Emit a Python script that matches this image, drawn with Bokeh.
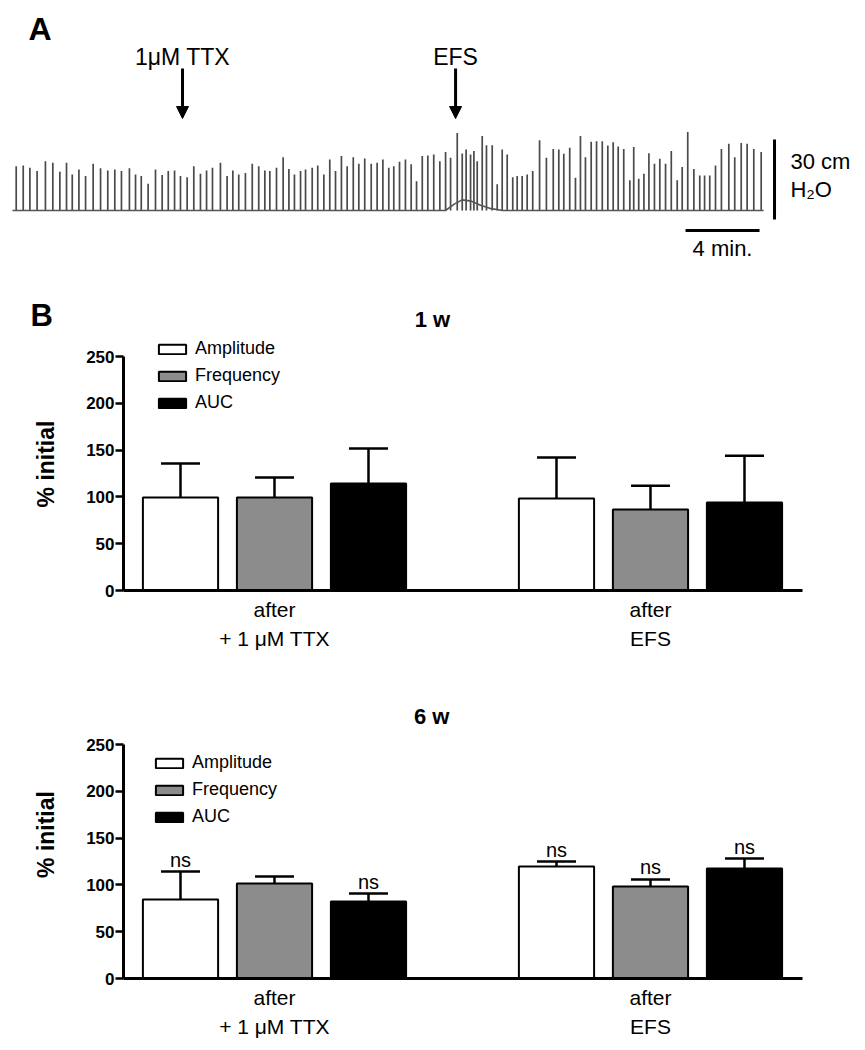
from bokeh.plotting import figure
from bokeh.models import (Range1d, Label, Arrow, NormalHead, Whisker, TeeHead,
                          ColumnDataSource, FixedTicker, Legend, LegendItem)
from bokeh.embed import file_html
from bokeh.resources import INLINE
from bokeh.core.properties import value

FONT = "Liberation Sans"

# ---------------- Panel A: pressure trace ----------------
spike_t = [0.20, 0.58, 0.94, 1.33, 1.78, 2.18, 2.56, 2.92, 3.23, 3.59,
           3.95, 4.36, 4.76, 5.15, 5.53, 5.89, 6.32, 6.65, 6.96, 7.33,
           7.73, 8.09, 8.42, 8.76, 9.08, 9.44, 9.80, 10.16, 10.49, 10.81,
           11.24, 11.60, 11.91, 12.23, 12.59, 12.96, 13.31, 13.64, 13.91, 14.27,
           14.63, 14.94, 15.24,
           15.57, 15.84, 16.20, 16.50, 16.83, 17.15, 17.46, 17.78, 18.09, 18.42,
           18.72, 19.04, 19.39, 19.71, 20.02, 20.34, 20.61, 20.92, 21.24, 21.55,
           21.84, 22.15, 22.45, 22.77, 23.10, 23.41, 23.68, 24.04, 24.31, 24.52,
           24.76, 24.94, 25.12, 25.39, 25.62, 25.93, 26.20, 26.47, 26.74, 27.04,
           27.28, 27.55, 27.82, 28.12, 28.49, 28.86, 29.23, 29.53, 29.80, 30.12,
           30.43, 30.70, 30.97, 31.28, 31.57,
           31.88, 32.18, 32.47, 32.74, 33.04, 33.37, 33.58, 33.85, 34.13, 34.40,
           34.70, 34.99, 35.30, 35.61, 35.93, 36.20, 36.50, 36.83, 37.15, 37.41,
           37.69, 38.00, 38.32, 38.72, 39.04, 39.39, 39.71, 40.07, 40.47]
spike_h = [16.6, 16.9, 16.0, 14.8, 18.5, 17.9, 14.5, 17.9, 13.5, 15.4,
           12.9, 17.5, 15.8, 15.0, 15.4, 14.8, 15.8, 13.5, 12.9, 10.0,
           15.4, 13.3, 14.8, 15.0, 12.9, 12.5, 16.6, 13.8, 15.0, 16.0,
           17.9, 12.9, 15.0, 13.5, 14.1, 17.5, 16.6, 15.0, 14.8, 16.0,
           20.0, 15.6, 13.5,
           14.8, 15.4, 16.0, 16.9, 13.5, 19.1, 14.8, 20.4, 16.6, 20.0,
           17.5, 19.5, 17.5, 17.9, 19.1, 16.0, 16.6, 18.3, 19.1, 17.3,
           11.0, 20.4, 20.6, 21.0, 18.5, 21.9, 19.8, 29.1, 21.4, 22.9,
           21.0, 22.3, 18.5, 27.9, 24.5, 24.5, 9.8, 22.9, 21.0, 12.5,
           12.9, 12.9, 13.5, 14.8, 26.3, 19.8, 23.1, 22.9, 21.3, 23.5,
           12.3, 27.9, 20.0, 25.8, 26.0,
           26.0, 24.4, 25.6, 24.0, 23.1, 11.3, 23.8, 11.9, 13.8, 21.5,
           17.5, 19.4, 17.5, 22.3, 11.3, 16.3, 29.4, 15.6, 13.1, 13.1,
           13.1, 16.9, 23.1, 25.0, 20.0, 25.3, 25.0, 23.1, 21.9]
base_t = [0.0, 23.4, 23.9, 24.3, 24.8, 25.3, 25.8, 26.5, 40.6]
base_v = [0.0, 0.0, 2.5, 4.0, 3.5, 2.0, 0.8, 0.0, 0.0]
event_t = [9.19, 23.95]
event_lbl = ["1\u03bcM TTX", "EFS"]
scale_cm = 30
scale_min = 4

# ---------------- Panel B: bar data (% initial, mean and SEM) ----------------
groups = ["after\n+ 1 \u03bcM TTX", "after\nEFS"]
series = ["Amplitude", "Frequency", "AUC"]
colors = ["white", "#8c8c8c", "black"]

w1_amp = [99.4, 98.3]
w1_amp_sem = [36.3, 43.7]
w1_freq = [99.4, 86.5]
w1_freq_sem = [21.3, 25.5]
w1_auc = [114.3, 94.0]
w1_auc_sem = [37.4, 50.0]

w6_amp = [84.4, 119.7]
w6_amp_sem = [29.9, 5.3]
w6_freq = [101.5, 98.3]
w6_freq_sem = [7.5, 7.5]
w6_auc = [82.3, 117.5]
w6_auc_sem = [8.5, 10.7]
w6_amp_sig = ["ns", "ns"]
w6_freq_sig = ["", "ns"]
w6_auc_sig = ["ns", "ns"]

W = 865


def lab(p, x, y, text, size, bold=False, align="left"):
    p.add_layout(Label(x=x, y=y, text=text, text_align=align,
                       text_baseline="middle", text_font=FONT,
                       text_font_style="bold" if bold else "normal",
                       text_font_size=size, text_color="black"))


def trace_fig():
    p = figure(width=W, height=337, output_backend="svg", toolbar_location=None,
               x_range=Range1d(-0.6486, 46.108), y_range=Range1d(-47.625, 78.75),
               x_axis_location=None, y_axis_location=None,
               min_border_left=0, min_border_right=0, min_border_top=0, min_border_bottom=0)
    p.grid.visible = False
    p.outline_line_color = None
    p.segment(x0=spike_t, y0=[0] * len(spike_t), x1=spike_t, y1=spike_h,
              line_color="#4a4a4a", line_width=1.7)
    p.line(base_t, base_v, line_color="#555555", line_width=1.6)
    for t, lbl in zip(event_t, event_lbl):
        lab(p, t, 57.75, lbl, "23px", align="center")
        p.add_layout(Arrow(end=NormalHead(size=12, fill_color="black", line_color="black"),
                           x_start=t, y_start=53.25, x_end=t, y_end=34.5,
                           line_width=3, line_color="black"))
    lab(p, 0.865, 68.06, "A", "32px", bold=True)
    # scale bars
    p.segment(x0=[41.19], y0=[-3.4], x1=[41.19], y1=[-3.4 + scale_cm],
              line_color="black", line_width=3)
    p.segment(x0=[36.38], y0=[-7.5], x1=[36.38 + scale_min], y1=[-7.5],
              line_color="black", line_width=3)
    lab(p, 42.05, 18.56, f"{scale_cm} cm", "22px")
    lab(p, 42.05, 8.06, "H\u2082O", "22px")
    lab(p, 36.38 + scale_min / 2, -14.25, f"{scale_min} min.", "22px", align="center")
    # panel B heading and first chart title
    lab(p, 0.973, -39.4, "B", "31px", bold=True)
    lab(p, 22.70, -41.06, "1 w", "22px", bold=True, align="center")
    return p


def bar_fig(means, sems, sigs, height, btop, bbot, yend, legend_loc, title=None, title_y=None):
    p = figure(width=W, height=height, output_backend="svg", toolbar_location=None,
               x_range=Range1d(-0.4016, 1.4043), y_range=Range1d(0, yend),
               min_border_left=123, min_border_right=63,
               min_border_top=btop, min_border_bottom=bbot)
    p.grid.visible = False
    p.outline_line_color = None
    offsets = [-0.25, 0.0, 0.25]
    items = []
    for i, name in enumerate(series):
        xs = [g + offsets[i] for g in range(len(groups))]
        up = [m + s for m, s in zip(means[i], sems[i])]
        src = ColumnDataSource(dict(x=xs, top=means[i], upper=up,
                                    sig=sigs[i] if sigs else [""] * len(xs)))
        p.add_layout(Whisker(source=src, base="x", lower="top", upper="upper",
                             dimension="height", line_width=2.5, line_color="black",
                             upper_head=TeeHead(size=39, line_width=2.5, line_color="black"),
                             lower_head=None))
        r = p.vbar(x="x", top="top", width=0.2, source=src, fill_color=colors[i],
                   line_color="black", line_width=2)
        if sigs:
            p.text(x="x", y="upper", text="sig", source=src, text_align="center",
                   text_baseline="middle", y_offset=-12, text_font=value(FONT),
                   text_font_size="20px", text_color="black")
        items.append(LegendItem(label=name, renderers=[r]))
    leg = Legend(items=items, location=legend_loc, glyph_width=34, glyph_height=12,
                 label_height=18, spacing=6, padding=0, margin=0, label_standoff=6,
                 border_line_color=None, background_fill_alpha=0,
                 label_text_font=FONT, label_text_font_size="18px",
                 label_text_color="black")
    p.add_layout(leg)

    ya = p.yaxis[0]
    ya.ticker = FixedTicker(ticks=[0, 50, 100, 150, 200, 250])
    ya.bounds = (0, 250)
    ya.axis_line_width = 3
    ya.axis_line_color = "black"
    ya.major_tick_line_width = 2.5
    ya.major_tick_line_color = "black"
    ya.major_tick_out = 8
    ya.major_tick_in = 0
    ya.minor_tick_out = 0
    ya.minor_tick_in = 0
    ya.major_label_text_font = FONT
    ya.major_label_text_font_style = "bold"
    ya.major_label_text_font_size = "17px"
    ya.major_label_text_color = "black"
    ya.major_label_standoff = 1
    ya.axis_label = "% initial"
    ya.axis_label_text_font = FONT
    ya.axis_label_text_font_style = "bold"
    ya.axis_label_text_font_size = "23px"
    ya.axis_label_text_color = "black"
    ya.axis_label_standoff = 24

    xa = p.xaxis[0]
    xa.ticker = FixedTicker(ticks=[0, 1])
    xa.major_label_overrides = {0: groups[0], 1: groups[1]}
    xa.axis_line_width = 3
    xa.axis_line_color = "black"
    xa.major_tick_out = 0
    xa.major_tick_in = 0
    xa.minor_tick_out = 0
    xa.minor_tick_in = 0
    xa.major_label_text_font = FONT
    xa.major_label_text_font_size = "21px"
    xa.major_label_text_color = "black"
    xa.major_label_text_line_height = 1.3
    xa.major_label_standoff = 7

    if title:
        lab(p, 0.418, title_y, title, "22px", bold=True, align="center")
    return p


f1 = trace_fig()
f2 = bar_fig([w1_amp, w1_freq, w1_auc], [w1_amp_sem, w1_freq_sem, w1_auc_sem],
             None, 317, 0, 64, 270.3, (32, 177))
f3 = bar_fig([w6_amp, w6_freq, w6_auc], [w6_amp_sem, w6_freq_sem, w6_auc_sem],
             [w6_amp_sig, w6_freq_sig, w6_auc_sig], 388, 36, 64, 307.7, (29, 151),
             title="6 w", title_y=280.4)

open("out.html", "w").write(file_html([f1, f2, f3], INLINE))
